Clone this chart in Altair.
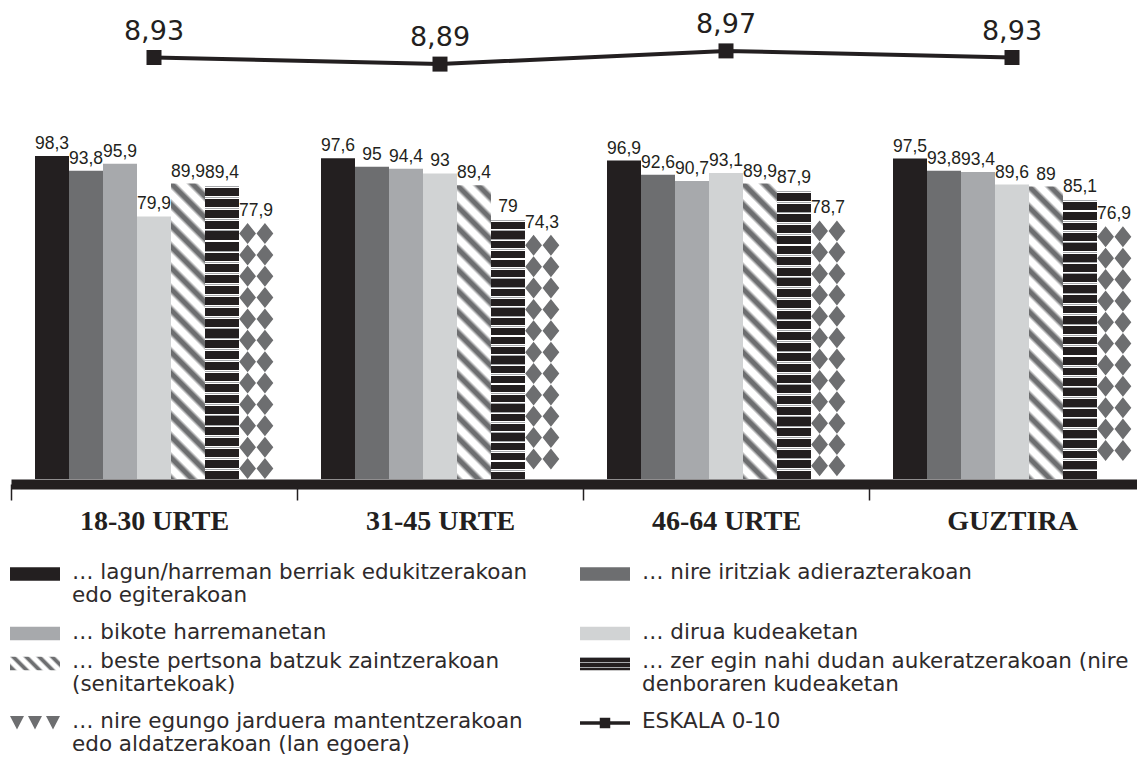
import altair as alt
import pandas as pd

# ---------------- data ----------------
groups = ["18-30 URTE", "31-45 URTE", "46-64 URTE", "GUZTIRA"]
series = [
    "… lagun/harreman berriak edukitzerakoan\nedo egiterakoan",
    "… nire iritziak adierazterakoan",
    "… bikote harremanetan",
    "… dirua kudeaketan",
    "… beste pertsona batzuk zaintzerakoan\n(senitartekoak)",
    "… zer egin nahi dudan aukeratzerakoan (nire\ndenboraren kudeaketan",
    "… nire egungo jarduera mantentzerakoan\nedo aldatzerakoan (lan egoera)",
]
line_label = "ESKALA 0-10"

lagun = [98.3, 97.6, 96.9, 97.5]
iritziak = [93.8, 95, 92.6, 93.8]
bikote = [95.9, 94.4, 90.7, 93.4]
dirua = [79.9, 93, 93.1, 89.6]
zaintzea = [89.9, 89.4, 89.9, 89]
aukeratzea = [89.4, 79, 87.9, 85.1]
jarduera = [77.9, 74.3, 78.7, 76.9]
eskala = [8.93, 8.89, 8.97, 8.93]

values_by_series = [lagun, iritziak, bikote, dirua, zaintzea, aukeratzea, jarduera]

# ---------------- styles ----------------
INK = "#231f20"
TEXT_INK = "#2e2a2b"
WHITE = "#ffffff"
solid_colors = ["#231f20", "#6d6e70", "#a7a9ac", "#d1d3d4"]
PAT_GRAY = "#6d6e70"
STRIPE_LIGHT = "#a7a9ac"

rows = []
for si, (name, vals) in enumerate(zip(series, values_by_series)):
    for g, v in zip(groups, vals):
        rows.append({"group": g, "series": name, "idx": si, "value": v})
bars_df = pd.DataFrame(rows)

line_df = pd.DataFrame({"group": groups, "v": eskala})

# diamond pattern for the last series (decoration derived from the bar heights)
dia_rows = []
for g, v in zip(groups, jarduera):
    c = v - 3.2
    while c - 3.0 >= 0:
        dia_rows.append({"group": g, "series": series[6], "pos": c})
        c -= 6.5
dia_df = pd.DataFrame(dia_rows)


def stripe_stops(n, pattern):
    stops = []
    k = 0
    while True:
        for f, c in pattern:
            off = (k + f) / n
            if off > 1:
                return stops
            stops.append({"offset": round(off, 5), "color": c})
        k += 1


diag_pattern = [(0, WHITE), (0.3, WHITE), (0.5, PAT_GRAY), (0.72, PAT_GRAY), (0.92, WHITE)]
hstripe_pattern = [(0, WHITE), (0.08, WHITE), (0.08, STRIPE_LIGHT), (0.17, STRIPE_LIGHT),
                   (0.17, WHITE), (0.25, WHITE), (0.25, INK), (1.0, INK)]


def diag_fill(w, h, period):
    t = (w + h) / (w * w + h * h)
    a, b = w * t, h * t
    n = (w + h) / period
    return {"gradient": "linear", "x1": 1, "y1": 0, "x2": 1 - a, "y2": b,
            "stops": stripe_stops(n, diag_pattern)}


def hstripe_fill(n):
    return {"gradient": "linear", "x1": 0, "y1": 0, "x2": 0, "y2": 1,
            "stops": stripe_stops(n, hstripe_pattern)}


# ---------------- scales / encodings ----------------
x_axis = alt.Axis(title=None, orient="bottom", offset=-273, domain=True, domainColor=INK,
                  domainWidth=10, ticks=True, tickBand="extent", tickSize=16, tickWidth=1.5,
                  tickColor=INK, labelFont="Liberation Serif", labelFontWeight="bold",
                  labelFontSize=28, labelColor=INK, labelPadding=7, labelAngle=0, grid=False)
X = alt.X("group:N", scale=alt.Scale(domain=groups, range=[0, 1144], paddingInner=0, paddingOuter=0),
          axis=x_axis, title=None)
XO = alt.XOffset("series:N", scale=alt.Scale(domain=series, paddingInner=0, paddingOuter=0.706))
y_scale = alt.Scale(domain=[0, 100], range=[471, 142.4], nice=False, zero=False)
Y = alt.Y("value:Q", scale=y_scale, axis=None)

solid = alt.Chart(bars_df[bars_df.idx < 4]).mark_bar(opacity=1, strokeWidth=0).encode(
    x=X, xOffset=XO, y=Y,
    color=alt.Color("series:N", scale=alt.Scale(domain=series[:4], range=solid_colors), legend=None),
)
diag = alt.Chart(bars_df[bars_df.idx == 4]).mark_bar(
    fill=diag_fill(34, 294, 21), strokeWidth=0, opacity=1).encode(x=X, xOffset=XO, y=Y)
hstr = alt.Chart(bars_df[bars_df.idx == 5]).mark_bar(
    fill=hstripe_fill(27), strokeWidth=0, opacity=1).encode(x=X, xOffset=XO, y=Y)

# two diamonds side by side in one symbol (unit path scaled by sqrt(size)/2)
DIAMOND2 = ("M-0.8,-1L0,0L-0.8,1L-1.6,0Z "
            "M0.85,-1L1.65,0L0.85,1L0.05,0Z")
dia_y = alt.Y("pos:Q", scale=y_scale, axis=None)
dia = alt.Chart(dia_df).mark_point(shape=DIAMOND2, size=441, filled=True, opacity=1,
                                   fill=PAT_GRAY, strokeWidth=0).encode(
    x=X, xOffset=XO, y=dia_y)

val_labels = alt.Chart(bars_df).transform_calculate(
    lbl="replace(format(datum.value, '~g'), '.', ',')"
).mark_text(baseline="bottom", dy=-3, font="Liberation Sans",
            fontSize=17.5, color=INK).encode(x=X, xOffset=XO, y=Y, text="lbl:N")

bars_group = alt.layer(solid, diag, hstr, dia, val_labels)

LYl = alt.Y("v:Q", scale=alt.Scale(domain=[8.9, 9.0], range=[54.45, 37.95], nice=False, zero=False),
            axis=None)
line = alt.Chart(line_df).mark_line(color=INK, strokeWidth=4).encode(x=X, y=LYl)
pts = alt.Chart(line_df).mark_point(shape="square", size=225, filled=True, opacity=1,
                                    color=INK).encode(x=X, y=LYl)
line_txt = alt.Chart(line_df).transform_calculate(
    lbl="replace(format(datum.v, '.2f'), '.', ',')"
).mark_text(baseline="middle", dy=-26, font="DejaVu Sans", fontSize=27,
            color=INK).encode(x=X, y=LYl, text="lbl:N")
line_group = alt.layer(line, pts, line_txt)

main = alt.layer(bars_group, line_group).resolve_scale(y="independent")

# ---------------- legend ----------------
leg_labels = series + [line_label]
leg_df = pd.DataFrame({"label": leg_labels, "item": list(range(len(leg_labels)))})
leg_df["lcol"] = leg_df["item"] % 2
leg_df["lrow"] = leg_df["item"] // 2
leg_df["nlines"] = leg_df["label"].str.count("\n") + 1
row_lines = leg_df.groupby("lrow")["nlines"].max()
row_start = row_lines.cumsum() - row_lines
leg_df["lline"] = leg_df["lrow"].map(row_start)

LX = alt.X("lcol:Q", scale=alt.Scale(domain=[0, 1], range=[24, 594], nice=False, zero=False), axis=None)
LY = alt.Y("lline:Q", scale=alt.Scale(domain=[0, 5], range=[566, 715], nice=False, zero=False), axis=None)

RECT = "M-1,-0.27L1,-0.27L1,0.27L-1,0.27Z"
leg_solid = alt.Chart(leg_df[leg_df.item < 4]).mark_point(
    shape=RECT, size=2500, filled=True, opacity=1, strokeWidth=0).encode(
    x=LX, y=LY,
    color=alt.Color("label:N", scale=alt.Scale(domain=series[:4], range=solid_colors), legend=None))
leg_diag = alt.Chart(leg_df[leg_df.item == 4]).mark_point(
    shape=RECT, size=2500, filled=True, opacity=1, strokeWidth=0,
    fill=diag_fill(50, 13.5, 13)).encode(x=LX, y=LY)
leg_hstr = alt.Chart(leg_df[leg_df.item == 5]).mark_point(
    shape=RECT, size=2500, filled=True, opacity=1, strokeWidth=0,
    fill=hstripe_fill(2.6)).encode(x=LX, y=LY)
TRI3 = ("M-1,-0.28L-0.44,-0.28L-0.72,0.26Z M-0.28,-0.28L0.28,-0.28L0,0.26Z "
        "M0.44,-0.28L1,-0.28L0.72,0.26Z")
leg_dia = alt.Chart(leg_df[leg_df.item == 6]).mark_point(
    shape=TRI3, size=2500, filled=True, opacity=1, strokeWidth=0, fill=PAT_GRAY).encode(x=LX, y=LY)
leg_line = alt.Chart(leg_df[leg_df.item == 7]).mark_point(
    shape="M-1,0L1,0", size=2500, filled=False, opacity=1, stroke=INK, strokeWidth=3.5).encode(x=LX, y=LY)
leg_sq = alt.Chart(leg_df[leg_df.item == 7]).mark_point(
    shape="square", size=110, filled=True, opacity=1, color=INK).encode(x=LX, y=LY)
leg_text = alt.Chart(leg_df).mark_text(
    align="left", baseline="top", dx=37, dy=-12, font="DejaVu Sans", fontSize=21.5,
    lineHeight=23, lineBreak="\n", color=TEXT_INK).encode(x=LX, y=LY, text="label:N")

legend = alt.layer(leg_solid, leg_diag, leg_hstr, leg_dia, leg_line, leg_sq, leg_text)

chart = alt.layer(main, legend).resolve_scale(
    x="independent", y="independent", color="independent"
).properties(
    width=1126, height=749,
    autosize=alt.AutoSizeParams(type="none"),
    padding={"left": 3, "top": 0, "right": 0, "bottom": 0},
    background="white",
).configure_view(stroke=None)

chart.save("out.html", embed_options={"renderer": "svg", "actions": False})
